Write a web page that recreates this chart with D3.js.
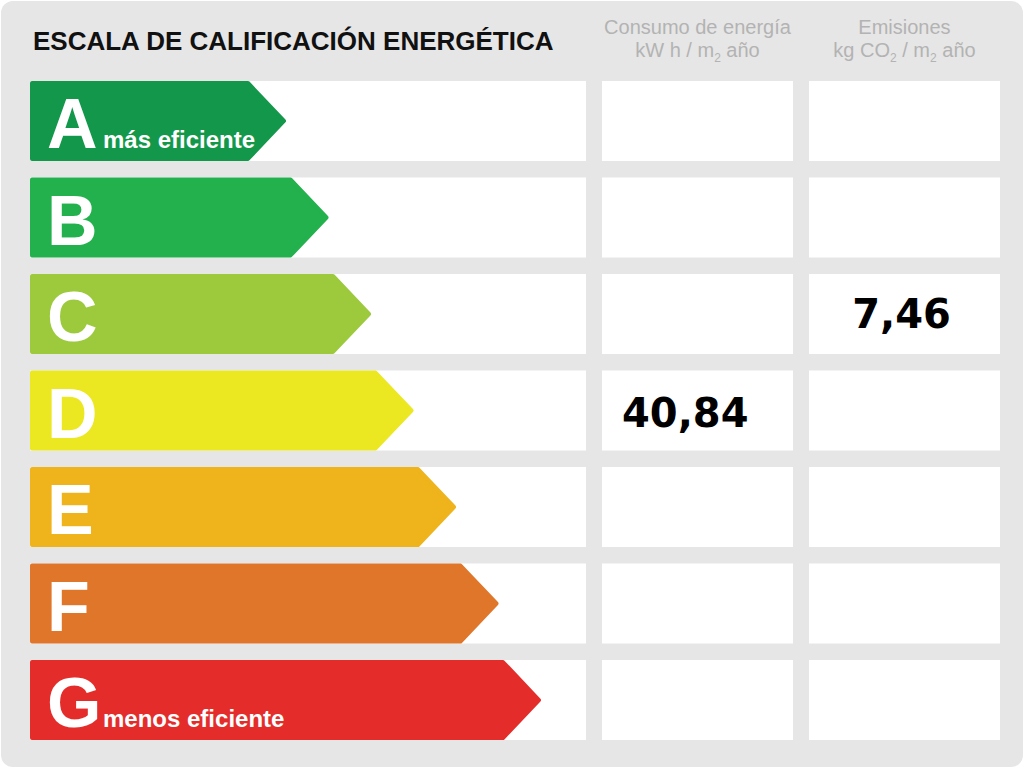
<!DOCTYPE html>
<html>
<head>
<meta charset="utf-8">
<script src="https://cdn.jsdelivr.net/npm/d3@7"></script>
<style>
  html, body { margin: 0; padding: 0; background: #fff; }
  svg { display: block; }
</style>
</head>
<body>
<div id="chart"></div>
<script>
var ratings = ["A", "B", "C", "D", "E", "F", "G"];
var ratingColors = ["#13984b", "#22b14c", "#9cca3c", "#ebe720", "#efb31b", "#e07629", "#e42d2a"];
var ratingNotes = ["más eficiente", "", "", "", "", "", "menos eficiente"];

var columns = ["consumo", "emisiones"];
var columnTitles = ["Consumo de energía", "Emisiones"];
var consumoRating = ["D"];
var consumoValue = [40.84];
var emisionesRating = ["C"];
var emisionesValue = [7.46];

var width = 1024, height = 768;

var svg = d3.select("#chart").append("svg")
    .attr("width", width)
    .attr("height", height);

// grey panel
svg.append("rect")
    .attr("x", 1).attr("y", 1)
    .attr("width", width - 2).attr("height", height - 2)
    .attr("rx", 12)
    .attr("fill", "#e6e6e6");

var y = d3.scaleBand()
    .domain(ratings)
    .range([81, 740])
    .paddingInner(0.171)
    .paddingOuter(0);

// tip of each arrow grows with the rating
var tip = d3.scaleLinear()
    .domain([0, ratings.length - 1])
    .range([286, 541]);

var colX = d3.scaleBand()
    .domain(columns)
    .range([602, 1000])
    .paddingInner(0.0773)
    .paddingOuter(0);

var formatComma = d3.formatLocale({ decimal: ",", thousands: ".", grouping: [3], currency: ["", "€"] }).format(".2f");

// title
svg.append("text")
    .attr("x", 33).attr("y", 50)
    .attr("font-family", "Liberation Sans, Arial, sans-serif")
    .attr("font-weight", "bold")
    .attr("font-size", 26)
    .attr("fill", "#111")
    .text("ESCALA DE CALIFICACIÓN ENERGÉTICA");

// column headers
var head = svg.append("g")
    .attr("font-family", "Liberation Sans, Arial, sans-serif")
    .attr("font-size", 20)
    .attr("fill", "#b3b3b3")
    .attr("text-anchor", "middle");

columns.forEach(function(c, i) {
  var cx = colX(c) + colX.bandwidth() / 2;
  head.append("text").attr("x", cx).attr("y", 34).text(columnTitles[i]);
  var t = head.append("text").attr("x", cx).attr("y", 57);
  if (c === "consumo") {
    t.append("tspan").text("kW h / m");
  } else {
    t.append("tspan").text("kg CO");
    t.append("tspan").attr("font-size", 12).attr("dy", 5).text("2");
    t.append("tspan").attr("dy", -5).text(" / m");
  }
  t.append("tspan").attr("font-size", 12).attr("dy", 5).text("2");
  t.append("tspan").attr("dy", -5).text(" año");
});

var rows = svg.selectAll("g.row")
    .data(ratings)
    .join("g")
    .attr("class", "row")
    .attr("transform", function(d) { return "translate(0," + y(d) + ")"; });

var h = y.bandwidth();

// white row behind the arrow
rows.append("rect")
    .attr("x", 30).attr("width", 556)
    .attr("height", h)
    .attr("fill", "#fff");

// white cells
columns.forEach(function(c) {
  rows.append("rect")
      .attr("x", colX(c)).attr("width", colX.bandwidth())
      .attr("height", h)
      .attr("fill", "#fff");
});

// arrows
rows.append("path")
    .attr("d", function(d, i) {
      var t = tip(i), p = d3.path();
      p.moveTo(32, 2);
      p.lineTo(t - 38, 2);
      p.lineTo(t - 2, h / 2);
      p.lineTo(t - 38, h - 2);
      p.lineTo(32, h - 2);
      p.closePath();
      return p.toString();
    })
    .attr("fill", function(d, i) { return ratingColors[i]; })
    .attr("stroke", function(d, i) { return ratingColors[i]; })
    .attr("stroke-width", 4)
    .attr("stroke-linejoin", "round");

rows.append("text")
    .attr("x", 47).attr("y", 67)
    .attr("font-family", "Liberation Sans, Arial, sans-serif")
    .attr("font-weight", "bold")
    .attr("font-size", 70)
    .attr("fill", "#fff")
    .text(function(d) { return d; });

rows.append("text")
    .attr("x", 103).attr("y", 67)
    .attr("font-family", "Liberation Sans, Arial, sans-serif")
    .attr("font-weight", "bold")
    .attr("font-size", 24)
    .attr("fill", "#fff")
    .text(function(d, i) { return ratingNotes[i]; });

// values
var vals = svg.append("g")
    .attr("font-family", "DejaVu Sans, sans-serif")
    .attr("font-weight", "bold")
    .attr("font-size", 40)
    .attr("fill", "#000");

consumoRating.forEach(function(r, i) {
  vals.append("text")
      .attr("x", colX("consumo") + 20)
      .attr("y", y(r) + 56)
      .text(formatComma(consumoValue[i]));
});

emisionesRating.forEach(function(r, i) {
  vals.append("text")
      .attr("x", colX("emisiones") + colX.bandwidth() / 2 - 3)
      .attr("y", y(r) + 54)
      .attr("text-anchor", "middle")
      .text(formatComma(emisionesValue[i]));
});
</script>
</body>
</html>
